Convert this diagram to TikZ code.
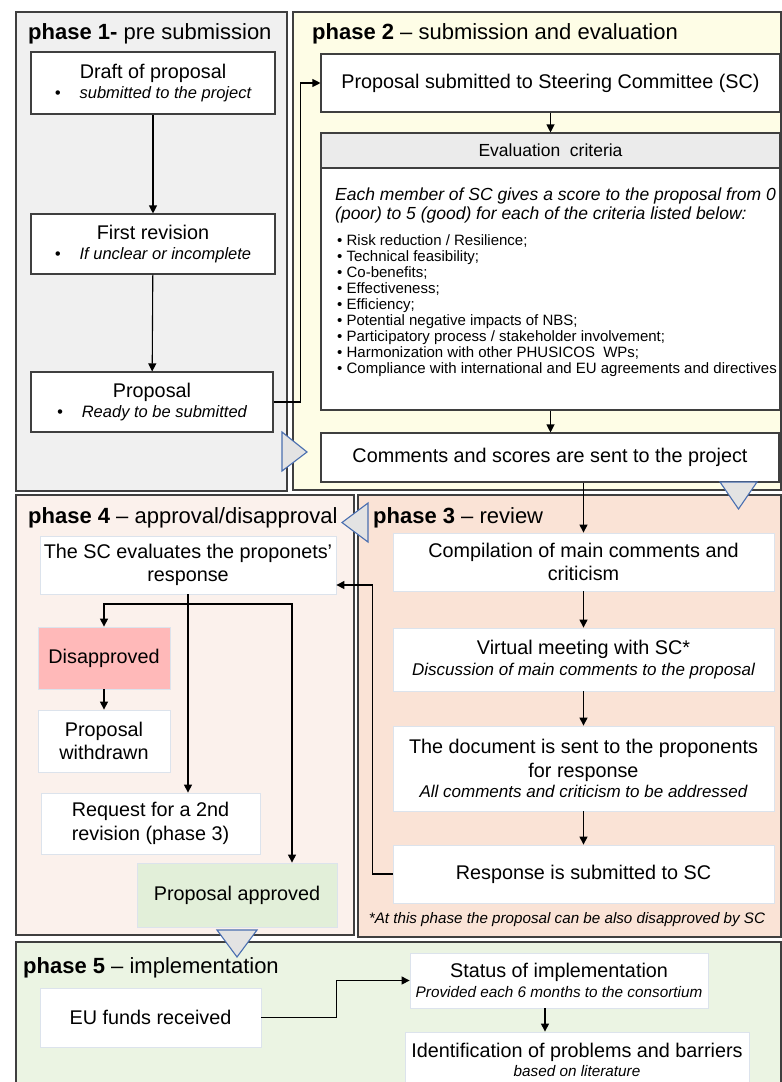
\documentclass[tikz,border=0pt]{standalone}
\usepackage{fontspec}
\setmainfont{Liberation Sans}
\usetikzlibrary{arrows.meta}
\definecolor{edge}{HTML}{3F3F3F}
\definecolor{pone}{HTML}{F0F0F0}
\definecolor{ptwo}{HTML}{FEFDE6}
\definecolor{pthree}{HTML}{FAE3D6}
\definecolor{pfour}{HTML}{FBF1EC}
\definecolor{pfive}{HTML}{EBF4E3}
\definecolor{trifill}{HTML}{E3E3E3}
\definecolor{triedge}{HTML}{4A6FB0}
\definecolor{soft}{HTML}{DCE3EC}
\definecolor{redfill}{HTML}{FFB9B9}
\definecolor{greenfill}{HTML}{E2EFD9}
\definecolor{hdrfill}{HTML}{EBEBEB}
\tikzset{
  panel/.style={draw=edge, line width=1.4pt},
  hardbox/.style={draw=edge, fill=white, line width=1.1pt, align=center, inner sep=2pt,
    font=\fontsize{19.8}{23.5}\selectfont},
  softbox/.style={draw=soft, fill=white, line width=0.8pt, align=center, inner sep=2pt,
    font=\fontsize{19.8}{23.5}\selectfont},
  ptitle/.style={anchor=west, inner sep=0pt, font=\fontsize{22}{26}\selectfont},
  arr/.style={draw=black, line width=1.1pt, -{Triangle[length=8pt,width=8pt]}},
  tri/.style={fill=trifill, draw=triedge, line width=1.1pt, line join=miter},
}
\newcommand{\subl}[1]{{\fontsize{16.5}{19}\selectfont\itshape #1}}
\newcommand{\subs}[1]{{\fontsize{15.3}{18}\selectfont\itshape #1}}
\newcommand{\subm}[1]{{\fontsize{17}{19}\selectfont\itshape #1}}
\begin{document}
\begin{tikzpicture}[x=1pt,y=-1pt]
\useasboundingbox (0,0) rectangle (782,1082);
\clip (0,0) rectangle (782,1082);
% panels
\draw[panel, fill=pone] (16,12) rectangle (287,491);
\draw[panel, fill=ptwo] (293,12) rectangle (781,490);
\draw[panel, fill=pfour] (16,495) rectangle (354,935);
\draw[panel, fill=pthree] (358,495) rectangle (781,937);
\draw[panel, fill=pfive] (16,942) rectangle (781,1095);
% titles
\node[ptitle] (t1) at (28,34) {\textbf{phase 1-} pre submission};
\node[ptitle] (t2) at (312,34) {\textbf{phase 2} -- submission and evaluation};
\node[ptitle] (t4) at (28,518) {\textbf{phase 4} -- approval/disapproval};
\node[ptitle] (t3) at (373,518) {\textbf{phase 3} -- review};
\node[ptitle] (t5) at (23,968) {\textbf{phase 5} -- implementation};
% phase 1
\node[hardbox, minimum width=244, minimum height=62] (draft) at (153,83)
  {Draft of proposal\\[-3pt]\subl{\textbullet\hspace{19pt}submitted to the project}};
\node[hardbox, minimum width=244, minimum height=60] (frev) at (153,244)
  {First revision\\[-3pt]\subl{\textbullet\hspace{19pt}If unclear or incomplete}};
\node[hardbox, minimum width=242, minimum height=60] (prop) at (152,402)
  {Proposal\\[-3pt]\subl{\textbullet\hspace{19pt}Ready to be submitted}};
\draw[arr] (draft) -- (frev);
\draw[arr] (frev) -- (prop);
% phase 2
\node[hardbox, minimum width=459, minimum height=58] (psc) at (550.5,83)
  {Proposal submitted to Steering Committee (SC)};
\node[hardbox, fill=hdrfill, minimum width=459, minimum height=35, font=\fontsize{17.5}{20}\selectfont] (ehdr) at (550.5,150.5)
  {Evaluation\ \ criteria};
\node[hardbox, minimum width=459, minimum height=242] (ebody) at (550.5,289) {};
\node[anchor=north west, inner sep=0pt, align=left, font=\fontsize{17.5}{18.8}\selectfont\itshape] (eintro) at (335,188)
  {Each member of SC gives a score to the proposal from 0\\(poor) to 5 (good) for each of the criteria listed below:};
\node[anchor=north west, inner sep=0pt, align=left, font=\fontsize{15}{16.1}\selectfont] (elist) at (337,234)
  {\textbullet\ Risk reduction / Resilience;\\
   \textbullet\ Technical feasibility;\\
   \textbullet\ Co-benefits;\\
   \textbullet\ Effectiveness;\\
   \textbullet\ Efficiency;\\
   \textbullet\ Potential negative impacts of NBS;\\
   \textbullet\ Participatory process / stakeholder involvement;\\
   \textbullet\ Harmonization with other PHUSICOS\ \ WPs;\\
   \textbullet\ Compliance with international and EU agreements and directives};
\node[hardbox, minimum width=458, minimum height=49] (comm) at (550,457.5)
  {Comments and scores are sent to the project};
\draw[arr] (psc) -- (ehdr);
\draw[arr] (ebody) -- (ebody |- comm.north);
\draw[arr] (prop.east) -- ++(27,0) |- (psc.west);
% phase 3
\node[softbox, minimum width=381, minimum height=58] (comp) at (583.5,562)
  {Compilation of main comments and\\criticism};
\node[softbox, minimum width=381, minimum height=63] (virt) at (583.5,659.5)
  {Virtual meeting with SC*\\[-3pt]\subm{Discussion of main comments to the proposal}};
\node[softbox, minimum width=381, minimum height=85] (docs) at (583.5,768.5)
  {The document is sent to the proponents\\for response\\[-3pt]\subm{All comments and criticism to be addressed}};
\node[softbox, minimum width=381, minimum height=58] (resp) at (583.5,874)
  {Response is submitted to SC};
\node[inner sep=0pt, font=\fontsize{15.2}{18}\selectfont\itshape] (foot) at (567,920)
  {*At this phase the proposal can be also disapproved by SC};
\draw[arr] (comm.south -| comp.north) -- (comp.north);
\draw[arr] (comp) -- (virt);
\draw[arr] (virt) -- (docs);
\draw[arr] (docs) -- (resp);
% phase 4
\node[softbox, minimum width=296, minimum height=58] (sce) at (188,565)
  {The SC evaluates the proponets'\\response};
\node[softbox, fill=redfill, minimum width=132, minimum height=62] (disap) at (104,658) {Disapproved};
\node[softbox, minimum width=132, minimum height=62] (withd) at (104,741) {Proposal\\withdrawn};
\node[softbox, minimum width=219, minimum height=61] (req) at (150.5,823.5) {Request for a 2nd\\revision (phase 3)};
\node[softbox, fill=greenfill, minimum width=200, minimum height=64] (appr) at (237,895) {Proposal approved};
\coordinate (split) at (188,604);
\coordinate (rt) at (292,604);
\draw[arr] (sce.south) -- (sce.south |- req.north);
\draw[arr] (split) -| (disap.north);
\draw[arr] (split) -- (rt) -- (rt |- appr.north);
\draw[arr] (disap) -- (withd);
\draw[arr] (resp.west) -- ++(-20,0) |- ([yshift=-20pt]sce.east);
% phase 5
\node[softbox, minimum width=221, minimum height=59] (eu) at (150.5,1017.5) {EU funds received};
\node[softbox, minimum width=298, minimum height=55] (stat) at (559,980.5)
  {Status of implementation\\[-3pt]\subs{Provided each 6 months to the consortium}};
\node[softbox, minimum width=344, minimum height=56] (ident) at (577,1060)
  {Identification of problems and barriers\\[-4pt]\subs{based on literature}};
\draw[arr] (eu.east) -- ++(75,0) |- (stat.west);
\draw[arr] ([xshift=-14pt]stat.south) -- ([xshift=-14pt]stat.south |- ident.north);
% triangles
\draw[tri] (282,432) -- (307,452) -- (282,471) -- cycle;
\draw[tri] (720,482) -- (757,482) -- (738.5,509) -- cycle;
\draw[tri] (368,503) -- (342,522.5) -- (368,542) -- cycle;
\draw[tri] (217,930) -- (257,930) -- (237,957) -- cycle;
\end{tikzpicture}
\end{document}
